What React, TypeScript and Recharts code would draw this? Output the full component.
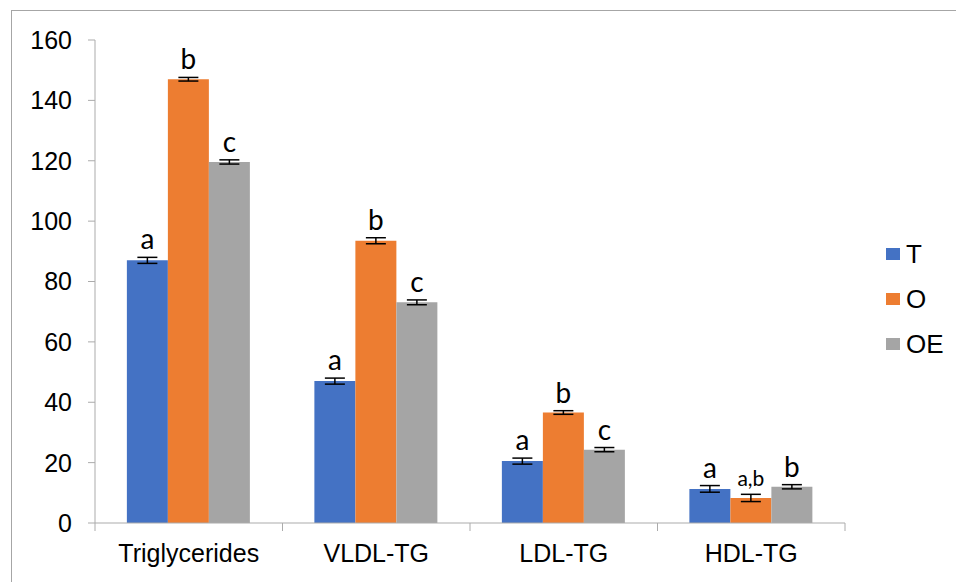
import { BarChart, Bar, XAxis, YAxis, ErrorBar, LabelList } from 'recharts';

const categories = ['Triglycerides', 'VLDL-TG', 'LDL-TG', 'HDL-TG'];
const tValues = [87, 47, 20.5, 11.3];
const oValues = [147, 93.5, 36.6, 8.3];
const oeValues = [119.6, 73.1, 24.3, 12];
const tErrors = [1, 1, 1, 1.1];
const oErrors = [0.6, 1, 0.6, 1.2];
const oeErrors = [0.7, 0.8, 0.7, 0.7];
const tLetters = ['a', 'a', 'a', 'a'];
const oLetters = ['b', 'b', 'b', 'a,b'];
const oeLetters = ['c', 'c', 'c', 'b'];
const yTicks = [0, 20, 40, 60, 80, 100, 120, 140, 160];

const series = [
  { key: 'T', values: tValues, errors: tErrors, letters: tLetters, color: '#4472C4' },
  { key: 'O', values: oValues, errors: oErrors, letters: oLetters, color: '#ED7D31' },
  { key: 'OE', values: oeValues, errors: oeErrors, letters: oeLetters, color: '#A5A5A5' },
];

const data = categories.map((name, i) => {
  const row: Record<string, string | number> = { name };
  series.forEach((s) => {
    row[s.key] = s.values[i];
    row[s.key + 'Err'] = s.errors[i];
  });
  return row;
});

const W = 956;
const H = 582;
const margin = { top: 40, right: 111, bottom: 0, left: 10 };
const yAxisWidth = 85;
const axisColor = '#ababab';
const band = (W - margin.left - margin.right - yAxisWidth) / categories.length;
const axisFont = "'Liberation Sans', Arial, sans-serif";

const CategoryTick = (props: any) => {
  const { x, y, payload, index } = props;
  return (
    <g>
      {index === 0 && (
        <line x1={x - band / 2} x2={x - band / 2} y1={y - 8} y2={y} stroke={axisColor} />
      )}
      <line x1={x + band / 2} x2={x + band / 2} y1={y - 8} y2={y} stroke={axisColor} />
      <text x={x} y={y + 31} textAnchor="middle" fontSize={25} fontFamily={axisFont} fill="#000">
        {payload.value}
      </text>
    </g>
  );
};

const makeLetterLabel = (letters: string[], errors: number[]) => (props: any) => {
  const { x, y, width, height, value, index } = props;
  const pxPerUnit = Number(height) / Number(value);
  const top = Number(y) - errors[index] * pxPerUnit;
  const txt = letters[index];
  return (
    <text
      x={Number(x) + Number(width) / 2}
      y={top - 8}
      textAnchor="middle"
      fontSize={txt.length > 1 ? 21 : 28}
      fontFamily="Lato, 'Noto Sans', sans-serif"
      fill="#000"
    >
      {txt}
    </text>
  );
};

export default function App() {
  return (
    <div style={{ position: 'absolute', left: 0, top: 0, width: W, height: H, background: '#fff' }}>
      <div
        style={{
          position: 'absolute',
          left: 11,
          top: 10,
          width: W + 20,
          height: H + 20,
          border: '1.5px solid #a6a6a6',
          boxSizing: 'border-box',
        }}
      />
      <BarChart
        width={W}
        height={H}
        data={data}
        margin={margin}
        barCategoryGap="17%"
        barGap={0}
        style={{ position: 'absolute', left: 0, top: 0 }}
      >
        <XAxis
          dataKey="name"
          height={59}
          stroke={axisColor}
          tickLine={false}
          tick={<CategoryTick />}
          interval={0}
        />
        <YAxis
          width={yAxisWidth}
          domain={[0, 160]}
          ticks={yTicks}
          interval={0}
          stroke={axisColor}
          tickSize={7}
          tickMargin={16}
          tick={{ fontSize: 25, fill: '#000', fontFamily: axisFont }}
        />
        {series.map((s) => (
          <Bar key={s.key} dataKey={s.key} fill={s.color} isAnimationActive={false}>
            <ErrorBar dataKey={s.key + 'Err'} width={10} stroke="#000" strokeWidth={1.5} direction="y" />
            <LabelList dataKey={s.key} content={makeLetterLabel(s.letters, s.errors)} />
          </Bar>
        ))}
      </BarChart>
      <div style={{ position: 'absolute', left: 886, top: 231 }}>
        {series.map((s) => (
          <div key={s.key} style={{ display: 'flex', alignItems: 'center', height: 45 }}>
            <div style={{ width: 14, height: 12, background: s.color, marginRight: 6 }} />
            <span style={{ fontSize: 26, fontFamily: axisFont, color: '#000', lineHeight: '32px' }}>
              {s.key}
            </span>
          </div>
        ))}
      </div>
    </div>
  );
}
